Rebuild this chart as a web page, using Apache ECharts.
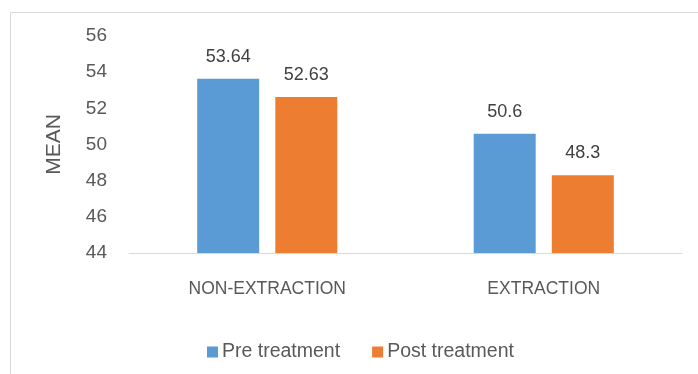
<!DOCTYPE html>
<html>
<head>
<meta charset="utf-8">
<script src="https://cdn.jsdelivr.net/npm/echarts@6/dist/echarts.min.js"></script>
<style>
  html, body { margin: 0; padding: 0; background: #fff; }
  #chart { width: 698px; height: 374px; }
</style>
</head>
<body>
<div id="chart"></div>
<script>
const categories = ['NON-EXTRACTION', 'EXTRACTION'];
const seriesNames = ['Pre treatment', 'Post treatment'];
const preTreatment = [53.64, 50.6];
const postTreatment = [52.63, 48.3];
const yTicks = [44, 46, 48, 50, 52, 54, 56];

const FONT = '"Liberation Sans", Arial, sans-serif';
const TEXT = '#595959';

const chart = echarts.init(document.getElementById('chart'), null, { renderer: 'canvas' });

const labelStyle = {
  show: true,
  position: 'top',
  distance: 13,
  color: '#404040',
  fontFamily: FONT,
  fontSize: 18
};

chart.setOption({
  animation: false,
  backgroundColor: '#fff',
  graphic: [{
    type: 'rect',
    shape: { x: 10.5, y: 12.5, width: 720, height: 400 },
    style: { fill: 'none', stroke: '#d9d9d9', lineWidth: 1 },
    silent: true
  }],
  grid: { left: 129, right: 16, top: 36, bottom: 121 },
  legend: {
    data: seriesNames,
    left: 202,
    top: 337,
    itemWidth: 11,
    itemHeight: 11,
    itemGap: 32,
    icon: 'rect',
    textStyle: { color: TEXT, fontFamily: FONT, fontSize: 19.5, padding: [0, 0, 0, -1] }
  },
  xAxis: {
    type: 'category',
    data: categories,
    axisLine: { lineStyle: { color: '#d9d9d9', width: 1 } },
    axisTick: { show: false },
    axisLabel: { color: TEXT, fontFamily: FONT, fontSize: 17.5, margin: 27 }
  },
  yAxis: {
    type: 'value',
    min: yTicks[0],
    max: yTicks[yTicks.length - 1],
    interval: 2,
    name: 'MEAN',
    nameLocation: 'middle',
    nameGap: 64,
    nameTextStyle: { color: TEXT, fontFamily: FONT, fontSize: 21 },
    axisLine: { show: false },
    axisTick: { show: false },
    splitLine: { show: false },
    axisLabel: { color: TEXT, fontFamily: FONT, fontSize: 19, margin: 22 }
  },
  series: [
    {
      name: seriesNames[0],
      type: 'bar',
      data: preTreatment,
      barWidth: 62,
      barGap: '26%',
      itemStyle: { color: '#5B9BD5' },
      label: labelStyle
    },
    {
      name: seriesNames[1],
      type: 'bar',
      data: postTreatment,
      barWidth: 62,
      barGap: '26%',
      itemStyle: { color: '#ED7D31' },
      label: labelStyle
    }
  ]
});
</script>
</body>
</html>
